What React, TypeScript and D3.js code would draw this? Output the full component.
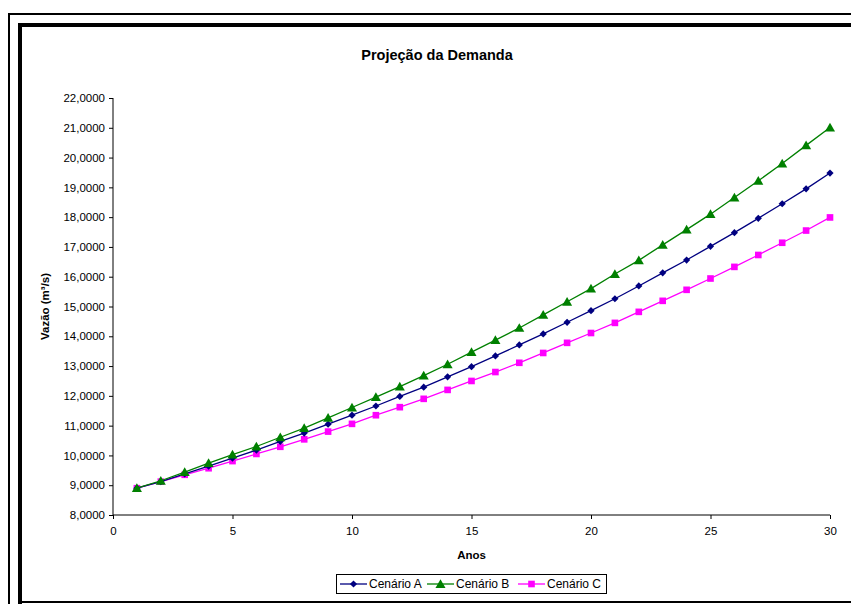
import React, { useEffect, useRef } from "react";
import * as d3 from "d3";

const anos = d3.range(1, 31);

const cenarioA = [
  8.9, 9.12, 9.38, 9.64, 9.91, 10.18, 10.47, 10.75, 11.05, 11.35,
  11.66, 11.98, 12.29, 12.64, 12.98, 13.34, 13.71, 14.08, 14.47, 14.86,
  15.26, 15.69, 16.13, 16.56, 17.02, 17.48, 17.96, 18.45, 18.95, 19.48
];
const cenarioB = [
  8.9, 9.15, 9.44, 9.74, 10.03, 10.3, 10.61, 10.92, 11.26, 11.61,
  11.96, 12.31, 12.68, 13.06, 13.47, 13.87, 14.28, 14.72, 15.16, 15.6,
  16.09, 16.55, 17.07, 17.58, 18.1, 18.66, 19.22, 19.8, 20.41, 21.01
];
const cenarioC = [
  8.9, 9.12, 9.35, 9.57, 9.81, 10.05, 10.29, 10.54, 10.8, 11.06,
  11.35, 11.62, 11.9, 12.2, 12.5, 12.8, 13.11, 13.44, 13.78, 14.11,
  14.45, 14.82, 15.19, 15.56, 15.94, 16.33, 16.73, 17.14, 17.55, 17.99
];

const seriesNames = ["Cenário A", "Cenário B", "Cenário C"];
const seriesColors = ["#000080", "#008000", "#ff00ff"];
const seriesSymbols = [d3.symbolSquare, d3.symbolTriangle, d3.symbolSquare];

const xTicks = [0, 5, 10, 15, 20, 25, 30];
const yTicks = d3.range(8, 23, 1);

function App() {
  const ref = useRef<SVGSVGElement>(null);

  useEffect(() => {
    drawChart();
  }, []);

  const drawChart = () => {
    const W = 851, H = 604;
    const font = "'Liberation Sans', Arial, sans-serif";
    const svg = d3.select(ref.current);
    svg.selectAll("*").remove();

    svg.append("rect").attr("width", W).attr("height", H).attr("fill", "#fff");

    // outer frames (chart window cut off at right/bottom)
    svg.append("path")
      .attr("d", `M9,${H} V14 H${W}`)
      .attr("fill", "none").attr("stroke", "#000").attr("stroke-width", 2);
    svg.append("path")
      .attr("d", `M20,${H} V25 H${W}`)
      .attr("fill", "none").attr("stroke", "#000").attr("stroke-width", 4);
    svg.append("line")
      .attr("x1", 20).attr("x2", W).attr("y1", 602).attr("y2", 602)
      .attr("stroke", "#000").attr("stroke-width", 2);

    const margin = { top: 98, left: 113 };
    const width = 830 - 113, height = 515 - 98;

    const x = d3.scaleLinear().domain([0, 30]).range([0, width]);
    const y = d3.scaleLinear().domain([8, 22]).range([height, 0]);

    const g = svg.append("g").attr("transform", `translate(${margin.left},${margin.top})`);

    // Title
    svg.append("text")
      .attr("x", 437).attr("y", 60)
      .attr("text-anchor", "middle")
      .style("font-family", font).style("font-weight", "bold").style("font-size", "14.5px")
      .text("Projeção da Demanda");

    // Y axis
    const yAxis = g.append("g")
      .call(d3.axisLeft(y).tickValues(yTicks).tickSize(4).tickPadding(4)
        .tickFormat(d => d3.format(",.4f")(d as number).replace(".", ",")));
    yAxis.selectAll("path, line").attr("stroke", "#000");
    yAxis.selectAll("text").style("font-family", font).style("font-size", "11.5px").attr("fill", "#000");
    yAxis.select(".domain").attr("d", `M0,0V${height}`);

    // X axis
    const xAxis = g.append("g").attr("transform", `translate(0,${height})`)
      .call(d3.axisBottom(x).tickValues(xTicks).tickSize(4).tickPadding(8));
    xAxis.selectAll("path, line").attr("stroke", "#000");
    xAxis.selectAll("text").style("font-family", font).style("font-size", "11.5px").attr("fill", "#000");
    xAxis.select(".domain").attr("d", `M0,0H${width}`);

    svg.append("text")
      .attr("x", margin.left + width / 2).attr("y", 559)
      .attr("text-anchor", "middle")
      .style("font-family", font).style("font-weight", "bold").style("font-size", "11.5px")
      .text("Anos");

    svg.append("text")
      .attr("transform", `translate(49,${margin.top + height / 2}) rotate(-90)`)
      .attr("text-anchor", "middle")
      .style("font-family", font).style("font-weight", "bold").style("font-size", "11.5px")
      .text("Vazão (m³/s)");

    const allSeries = [cenarioA, cenarioB, cenarioC];
    const line = d3.line<number>().x((d, i) => x(anos[i])).y(d => y(d));
    const symbolSizes = [26, 44, 44];
    const symbolRot = [45, 0, 0];

    // draw C first, then A, then B on top
    [2, 0, 1].forEach(si => {
      const vals = allSeries[si];
      g.append("path")
        .datum(vals)
        .attr("d", line)
        .attr("fill", "none")
        .attr("stroke", seriesColors[si])
        .attr("stroke-width", 1.3);
      g.selectAll(`.m${si}`)
        .data(vals)
        .enter()
        .append("path")
        .attr("class", `m${si}`)
        .attr("transform", (d, i) =>
          `translate(${x(anos[i])},${y(d) + (si === 1 ? 1 : 0)}) rotate(${symbolRot[si]})`)
        .attr("d", d3.symbol().type(seriesSymbols[si]).size(symbolSizes[si])())
        .attr("fill", seriesColors[si]);
    });

    // Legend
    const legend = svg.append("g");
    legend.append("rect")
      .attr("x", 336.5).attr("y", 574.5).attr("width", 270).attr("height", 19)
      .attr("fill", "#fff").attr("stroke", "#000").attr("stroke-width", 1);
    const itemX = [340, 427, 518];
    seriesNames.forEach((name, i) => {
      const lx = itemX[i];
      legend.append("line")
        .attr("x1", lx).attr("x2", lx + 27).attr("y1", 584).attr("y2", 584)
        .attr("stroke", seriesColors[i]).attr("stroke-width", 1.3);
      legend.append("path")
        .attr("transform", `translate(${lx + 13.5},${584 + (i === 1 ? 1 : 0)}) rotate(${symbolRot[i]})`)
        .attr("d", d3.symbol().type(seriesSymbols[i]).size(symbolSizes[i])())
        .attr("fill", seriesColors[i]);
      legend.append("text")
        .attr("x", lx + 29).attr("y", 588)
        .style("font-family", font).style("font-size", "12px")
        .text(name);
    });
  };

  return (
    <svg ref={ref} width={851} height={604} style={{ position: "absolute", left: 0, top: 0 }} />
  );
}

export default App;
